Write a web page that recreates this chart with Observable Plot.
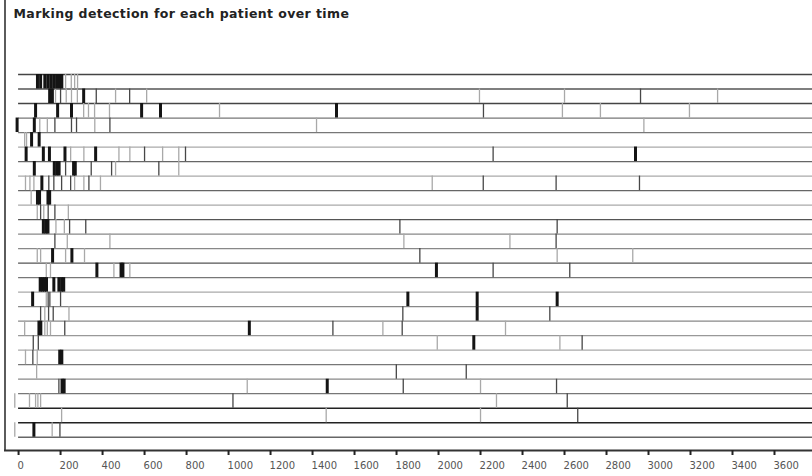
<!DOCTYPE html>
<html>
<head>
<meta charset="utf-8">
<script src="https://cdn.jsdelivr.net/npm/d3@7"></script>
<script src="https://cdn.jsdelivr.net/npm/@observablehq/plot@0.6"></script>
<style>
  html, body { margin: 0; padding: 0; background: #fff; }
</style>
</head>
<body>
<div id="chart"></div>
<script>
// ---- data ----
const chartTitle = "Marking detection for each patient over time";
const patientCount = 25;
const xTicks = [0, 200, 400, 600, 800, 1000, 1200, 1400, 1600, 1800, 2000, 2200, 2400, 2600, 2800, 3000, 3200, 3400, 3600];

// detections: [patient row, time]
const blackMarks = [
  [0,90],[0,105],[0,125],[0,139],[0,153],[0,167],[0,181],[0,195],[0,206],
  [1,148],[1,155],[1,161],[1,310],
  [2,81],[2,186],[2,252],[2,586],[2,676],[2,1514],
  [3,-7],[3,75],
  [4,62],[4,98],
  [5,36],[5,118],[5,147],[5,221],[5,367],[5,2938],
  [6,75],[6,170],[6,182],[6,193],[6,262],[6,270],
  [7,111],
  [8,90],[8,100],[8,140],[8,148],
  [10,118],[10,130],[10,140],
  [12,162],[12,254],
  [13,373],[13,488],[13,497],[13,1990],
  [14,103],[14,113],[14,123],[14,133],[14,168],[14,192],[14,205],[14,215],
  [15,67],[15,1854],[15,2184],[15,2565],
  [16,2184],
  [17,97],[17,106],[17,1099],
  [18,2168],
  [19,196],[19,206],
  [21,207],[21,217],[21,1470],
  [24,73]
];
const darkMarks = [
  [1,200],[1,370],[1,529],[1,2962],
  [2,2214],
  [3,173],[3,252],[3,276],[3,435],
  [5,600],[5,795],[5,2260],
  [6,224],[6,346],[6,443],[6,668],
  [7,144],[7,168],[7,205],[7,248],[7,335],[7,2213],[7,2560],[7,2957],
  [9,105],[9,141],[9,173],
  [10,243],[10,320],[10,1816],[10,2565],
  [11,173],[11,2560],
  [12,1911],
  [13,2260],[13,2625],
  [15,141],[15,149],[15,200],
  [16,105],[16,143],[16,165],[16,1830],[16,2530],
  [17,220],[17,1497],[17,1827],
  [18,70],[18,94],[18,2684],
  [19,68],
  [20,1799],[20,2132],
  [21,192],[21,1832],[21,2562],
  [22,1021],[22,2613],
  [23,2663],
  [24,197]
];
const grayMarks = [
  [0,224],[0,251],[0,267],[0,281],
  [1,176],[1,227],[1,252],[1,280],[1,462],[1,610],[1,2195],[1,2600],[1,3329],
  [2,310],[2,333],[2,362],[2,433],[2,957],[2,2590],[2,2771],[2,3195],
  [3,101],[3,137],[3,363],[3,1419],[3,2978],
  [4,29],[4,38],
  [5,248],[5,311],[5,478],[5,530],[5,686],[5,763],
  [6,462],[6,763],
  [7,33],[7,54],[7,73],[7,267],[7,311],[7,390],[7,1970],
  [8,60],
  [9,89],[9,120],[9,237],
  [10,178],[10,218],
  [11,232],[11,435],[11,1835],[11,2340],
  [12,89],[12,105],[12,224],[12,314],[12,2565],[12,2925],
  [13,132],[13,152],[13,454],[13,530],
  [15,132],
  [16,125],[16,240],
  [17,29],[17,125],[17,137],[17,152],[17,1735],[17,2319],
  [18,1994],[18,2578],
  [19,33],[19,89],
  [20,86],
  [21,1089],[21,2200],
  [22,-18],[22,52],[22,81],[22,92],[22,105],[22,2276],
  [23,205],[23,1465],[23,2200],
  [24,-18],[24,160]
];

// ---- styling (not data) ----
const borderShade = ["#444","#555","#444","#777","#777","#aaa","#666","#aaa","#666","#aaa",
  "#555","#888","#888","#555","#777","#aaa","#888","#888","#999","#aaa",
  "#777","#888","#777","#222","#222","#666"];

const xMin = -67, xMax = 3781;
const yTop = -5.1, yBottom = 25.913;
const font = "DejaVu Sans, Verdana, sans-serif";

const chart = Plot.plot({
  width: 812,
  height: 476,
  marginLeft: 4,
  marginRight: 0,
  marginTop: 0,
  marginBottom: 26,
  style: { fontFamily: font, background: "#fff", overflow: "visible" },
  x: { domain: [xMin, xMax], axis: null },
  y: { domain: [yTop, yBottom], reverse: true, axis: null },
  color: { type: "identity" },
  marks: [
    // band borders
    Plot.ruleY(d3.range(patientCount + 1), {
      y: d => d, x1: 0, x2: xMax, stroke: d => borderShade[d], strokeWidth: 1.3
    }),
    // detections
    Plot.ruleX(grayMarks, {
      x: d => d[1], y1: d => d[0], y2: d => d[0] + 1, stroke: "#a9a9a9", strokeWidth: 1.3
    }),
    Plot.ruleX(darkMarks, {
      x: d => d[1], y1: d => d[0], y2: d => d[0] + 1, stroke: "#474747", strokeWidth: 1.3
    }),
    Plot.ruleX(blackMarks, {
      x: d => d[1], y1: d => d[0], y2: d => d[0] + 1, stroke: "#141414", strokeWidth: 3
    }),
    // axes lines
    Plot.ruleX([xMin], { x: d => d, dx: 0.5, stroke: "#333", strokeWidth: 1.6 }),
    Plot.ruleY([yBottom], { y: d => d, stroke: "#333", strokeWidth: 2 }),
    // x ticks
    Plot.ruleX(xTicks, {
      x: d => d, y1: yBottom, y2: yBottom + 5 / 14.51, stroke: "#222", strokeWidth: 2
    }),
    Plot.text(xTicks, {
      x: d => d, y: yBottom, dy: 15, dx: -1, textAnchor: "start",
      text: d => String(d), fontSize: 10, fill: "#555"
    }),
    // title
    Plot.text([chartTitle], {
      frameAnchor: "top-left", dx: 9, dy: 9, lineAnchor: "top", textAnchor: "start",
      text: d => d, fontSize: 12.5, fontWeight: "bold", fill: "#222"
    })
  ]
});
chart.querySelectorAll("text").forEach(t => {
  if (t.textContent === chartTitle) t.setAttribute("letter-spacing", "0.4");
});
document.getElementById("chart").appendChild(chart);
</script>
</body>
</html>
